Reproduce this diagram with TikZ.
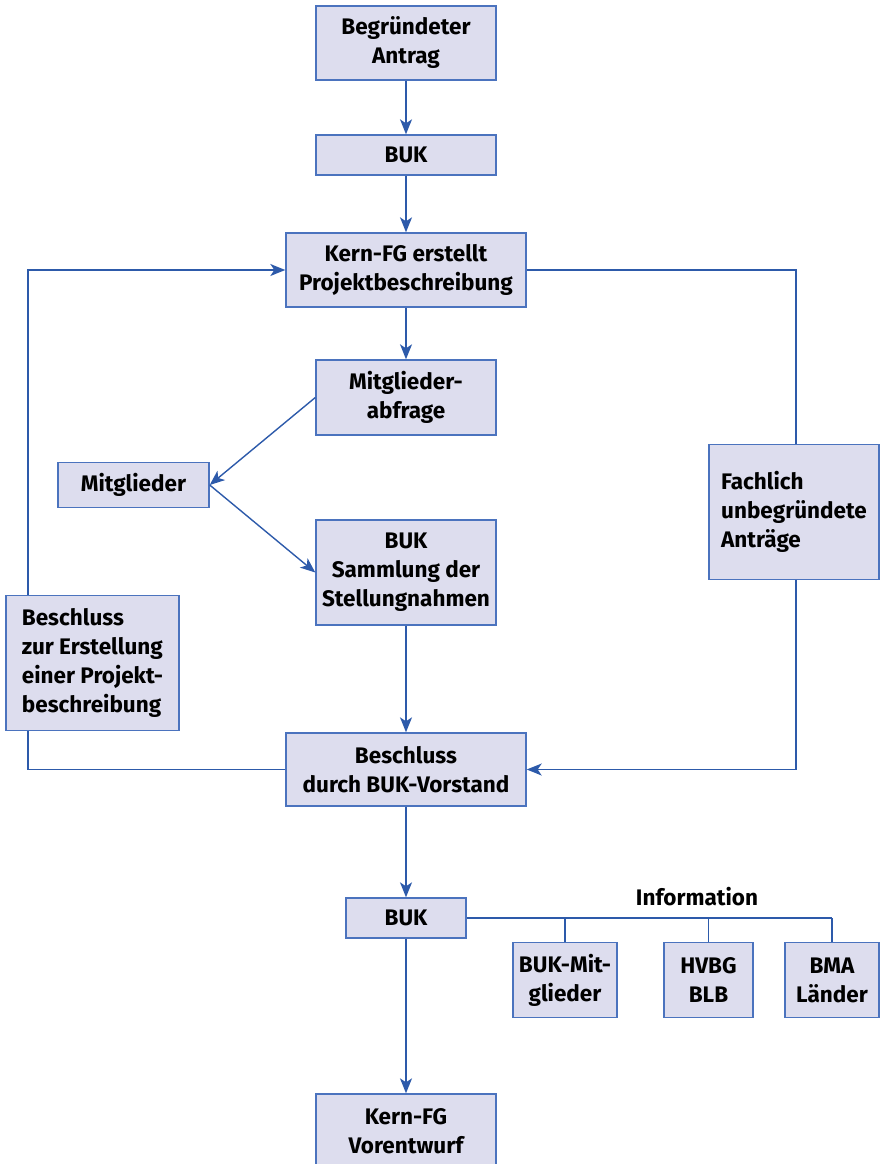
\documentclass[tikz,border=0pt]{standalone}
\usepackage{fontspec}
\setmainfont{Fira Sans}
\usetikzlibrary{arrows.meta}
\definecolor{boxfill}{RGB}{221,221,238}
\definecolor{boxline}{RGB}{75,115,190}
\definecolor{arr}{RGB}{45,90,170}
\begin{document}
\begin{tikzpicture}[x=1pt,y=-1pt,
  box/.style={draw=boxline,fill=boxfill,line width=1.4pt,align=center,
    font=\fontsize{22.5}{29}\selectfont\bfseries,inner sep=0pt},
  lbox/.style={box,align=left},
  conn/.style={draw=arr,line width=1.4pt},
  arrow/.style={conn,-{Stealth[length=15pt,width=12pt,inset=4pt]}},
  lbl/.style={font=\fontsize{22.5}{29}\selectfont\bfseries,inner sep=0pt}]
\useasboundingbox (0,0) rectangle (879,1164);
\node[box,minimum width=180,minimum height=74] (a) at (406,43) {Begründeter\\Antrag};
\node[box,minimum width=180,minimum height=40] (b) at (406,155) {BUK};
\node[box,minimum width=240,minimum height=74] (c) at (406,270) {Kern-FG erstellt\\Projektbeschreibung};
\node[box,minimum width=180,minimum height=75] (d) at (406,397.5) {Mitglieder-\\abfrage};
\node[box,minimum width=151,minimum height=45] (m) at (133.5,485) {Mitglieder};
\node[box,minimum width=180,minimum height=105] (s) at (406,572.5) {BUK\\Sammlung der\\Stellungnahmen};
\node[lbox,minimum width=173,minimum height=135] (bz) at (92.5,663) {Beschluss\\zur Erstellung\\einer Projekt-\\beschreibung};
\node[box,minimum width=240,minimum height=73] (bd) at (406,769.5) {Beschluss\\durch BUK-Vorstand};
\node[lbox,minimum width=170,minimum height=135] (f) at (794,512) {Fachlich\\unbegründete\\Anträge};
\node[box,minimum width=120,minimum height=40] (b2) at (406,918) {BUK};
\node[box,minimum width=104,minimum height=75] (bm) at (565,980) {BUK-Mit-\\glieder};
\node[box,minimum width=89,minimum height=75] (hv) at (708.5,980) {HVBG\\BLB};
\node[box,minimum width=94,minimum height=75] (bma) at (832,980) {BMA\\Länder};
\node[box,minimum width=180,minimum height=74] (kv) at (406,1131) {Kern-FG\\Vorentwurf};
\node[lbl] (info) at (697,897) {Information};
\coordinate (lx) at (28,0);
\coordinate (rx) at (796,0);
% vertical flow
\draw[arrow] (a) -- (b);
\draw[arrow] (b) -- (c);
\draw[arrow] (c) -- (d);
\draw[arrow] (s) -- (bd);
\draw[arrow] (bd) -- (b2);
\draw[arrow] (b2) -- (kv);
% diagonals
\draw[arrow] (d.west) -- (m.east);
\draw[arrow] (m.east) -- (s.west);
% left loop
\draw[conn] (bd.west) -| (bz.south -| lx);
\draw[arrow] (bz.north -| lx) |- (c.west);
% right loop
\draw[conn] (c.east) -| (f.north -| rx);
\draw[arrow] (f.south -| rx) |- (bd.east);
% information
\draw[conn] (b2.east) -- (b2.east -| bma.north);
\draw[conn] (bm.north) -- (bm.north |- b2.east);
\draw[conn] (hv.north) -- (hv.north |- b2.east);
\draw[conn] (bma.north) -- (bma.north |- b2.east);
\end{tikzpicture}
\end{document}
